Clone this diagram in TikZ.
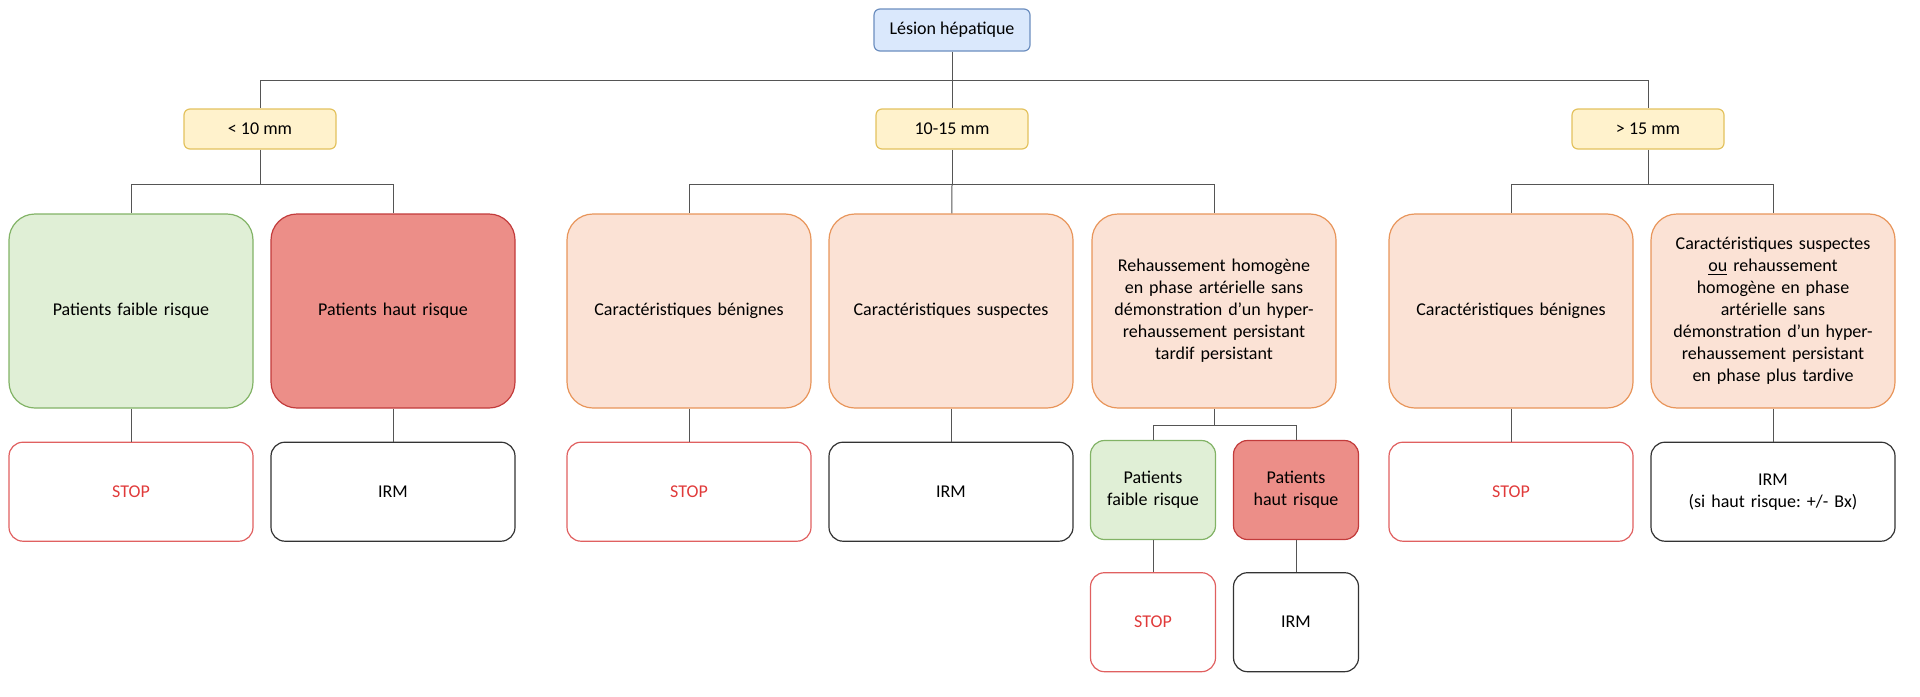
\documentclass[tikz,border=0pt]{standalone}
\usepackage{fontspec}
\setmainfont{Carlito}
\usetikzlibrary{positioning}
\frenchspacing
\definecolor{rootfill}{HTML}{DAE8FC}
\definecolor{rootline}{HTML}{6C8EBF}
\definecolor{sizefill}{HTML}{FFF2CC}
\definecolor{sizeline}{HTML}{E3C25E}
\definecolor{lowfill}{HTML}{E0EFD6}
\definecolor{lowline}{HTML}{82B366}
\definecolor{highfill}{HTML}{EC8E88}
\definecolor{highline}{HTML}{C23B3B}
\definecolor{featfill}{HTML}{FBE2D5}
\definecolor{featline}{HTML}{E8955A}
\definecolor{stopline}{HTML}{E06060}
\definecolor{stoptext}{HTML}{E03A3A}
\definecolor{irmline}{HTML}{333333}
\definecolor{linkgray}{HTML}{555555}
\begin{document}
\begin{tikzpicture}
            [x=0.5pt, y=-0.5pt,
             box/.style = {draw, align=center, line width=0.6pt, inner sep=2pt, font=\fontsize{9}{11}\selectfont},
             rootbox/.style = {box, fill=rootfill, draw=rootline, rounded corners=3pt, minimum width=78pt, minimum height=21pt},
             sizebox/.style = {box, fill=sizefill, draw=sizeline, rounded corners=3pt, minimum width=76pt, minimum height=20pt},
             bigbox/.style = {box, fill=featfill, draw=featline, rounded corners=13pt, minimum width=122pt, minimum height=97pt, text width=116pt},
             lowbig/.style = {bigbox, fill=lowfill, draw=lowline},
             highbig/.style = {bigbox, fill=highfill, draw=highline},
             endbox/.style = {box, rounded corners=7pt, minimum width=122pt, minimum height=49.5pt, text width=116pt},
             stopbox/.style = {endbox, draw=stopline, text=stoptext},
             irmbox/.style = {endbox, draw=irmline},
             smallbox/.style = {box, rounded corners=7pt, minimum width=62.5pt, minimum height=49.5pt, text width=58pt},
             lowsmall/.style = {smallbox, fill=lowfill, draw=lowline},
             highsmall/.style = {smallbox, fill=highfill, draw=highline},
             stopsmall/.style = {smallbox, draw=stopline, text=stoptext},
             irmsmall/.style = {smallbox, draw=irmline},
             link/.style = {draw=linkgray, line width=0.5pt}]
            \useasboundingbox (0,0) rectangle (1920,696);
            \node[rootbox] (root) at (952,30) {Lésion hépatique};
            \node[sizebox] (lt10) at (260,129) {< 10 mm};
            \node[sizebox] (mid) at (952,129) {10-15 mm};
            \node[sizebox] (gt15) at (1648,129) {> 15 mm};
            \node[lowbig] (low1) at (131,311) {Patients faible risque};
            \node[highbig] (high1) at (393,311) {Patients haut risque};
            \node[bigbox] (benign1) at (689,311) {Caractéristiques bénignes};
            \node[bigbox] (suspect1) at (951,311) {Caractéristiques suspectes};
            \node[bigbox] (rehauss) at (1214,311) {Rehaussement homogène\\en phase artérielle sans\\démonstration d’un hyper-\\rehaussement persistant\\tardif persistant};
            \node[bigbox] (benign2) at (1511,311) {Caractéristiques bénignes};
            \node[bigbox] (suspect2) at (1773,311) {Caractéristiques suspectes\\\underline{ou} rehaussement\\homogène en phase\\artérielle sans\\démonstration d’un hyper-\\rehaussement persistant\\en phase plus tardive};
            \node[stopbox] (stop1) [below=16.5pt of low1] {STOP};
            \node[irmbox] (irm1) [below=16.5pt of high1] {IRM};
            \node[stopbox] (stop2) [below=16.5pt of benign1] {STOP};
            \node[irmbox] (irm2) [below=16.5pt of suspect1] {IRM};
            \node[lowsmall] (low2) at (1153,490) {Patients\\faible risque};
            \node[highsmall] (high2) at (1296,490) {Patients\\haut risque};
            \node[stopbox] (stop3) [below=16.5pt of benign2] {STOP};
            \node[irmbox] (irm3) [below=16.5pt of suspect2] {IRM\\(si haut risque: +/- Bx)};
            \node[stopsmall] (stop4) [below=16pt of low2] {STOP};
            \node[irmsmall] (irm4) [below=16pt of high2] {IRM};
            \coordinate (fork0) at (952,80);
            \coordinate (fork1) at (260,184);
            \coordinate (fork2) at (952,184);
            \coordinate (fork3) at (1648,184);
            \coordinate (fork4) at (1214,425);
            \draw[link] (root) -- (fork0);
            \draw[link] (fork0) -| (lt10);
            \draw[link] (fork0) -- (mid);
            \draw[link] (fork0) -| (gt15);
            \draw[link] (lt10) -- (fork1);
            \draw[link] (fork1) -| (low1);
            \draw[link] (fork1) -| (high1);
            \draw[link] (mid) -- (fork2);
            \draw[link] (fork2) -| (benign1);
            \draw[link] (fork2) -- (suspect1);
            \draw[link] (fork2) -| (rehauss);
            \draw[link] (gt15) -- (fork3);
            \draw[link] (fork3) -| (benign2);
            \draw[link] (fork3) -| (suspect2);
            \draw[link] (low1) -- (stop1);
            \draw[link] (high1) -- (irm1);
            \draw[link] (benign1) -- (stop2);
            \draw[link] (suspect1) -- (irm2);
            \draw[link] (rehauss) -- (fork4);
            \draw[link] (fork4) -| (low2);
            \draw[link] (fork4) -| (high2);
            \draw[link] (benign2) -- (stop3);
            \draw[link] (suspect2) -- (irm3);
            \draw[link] (low2) -- (stop4);
            \draw[link] (high2) -- (irm4);
        \end{tikzpicture}
\end{document}
